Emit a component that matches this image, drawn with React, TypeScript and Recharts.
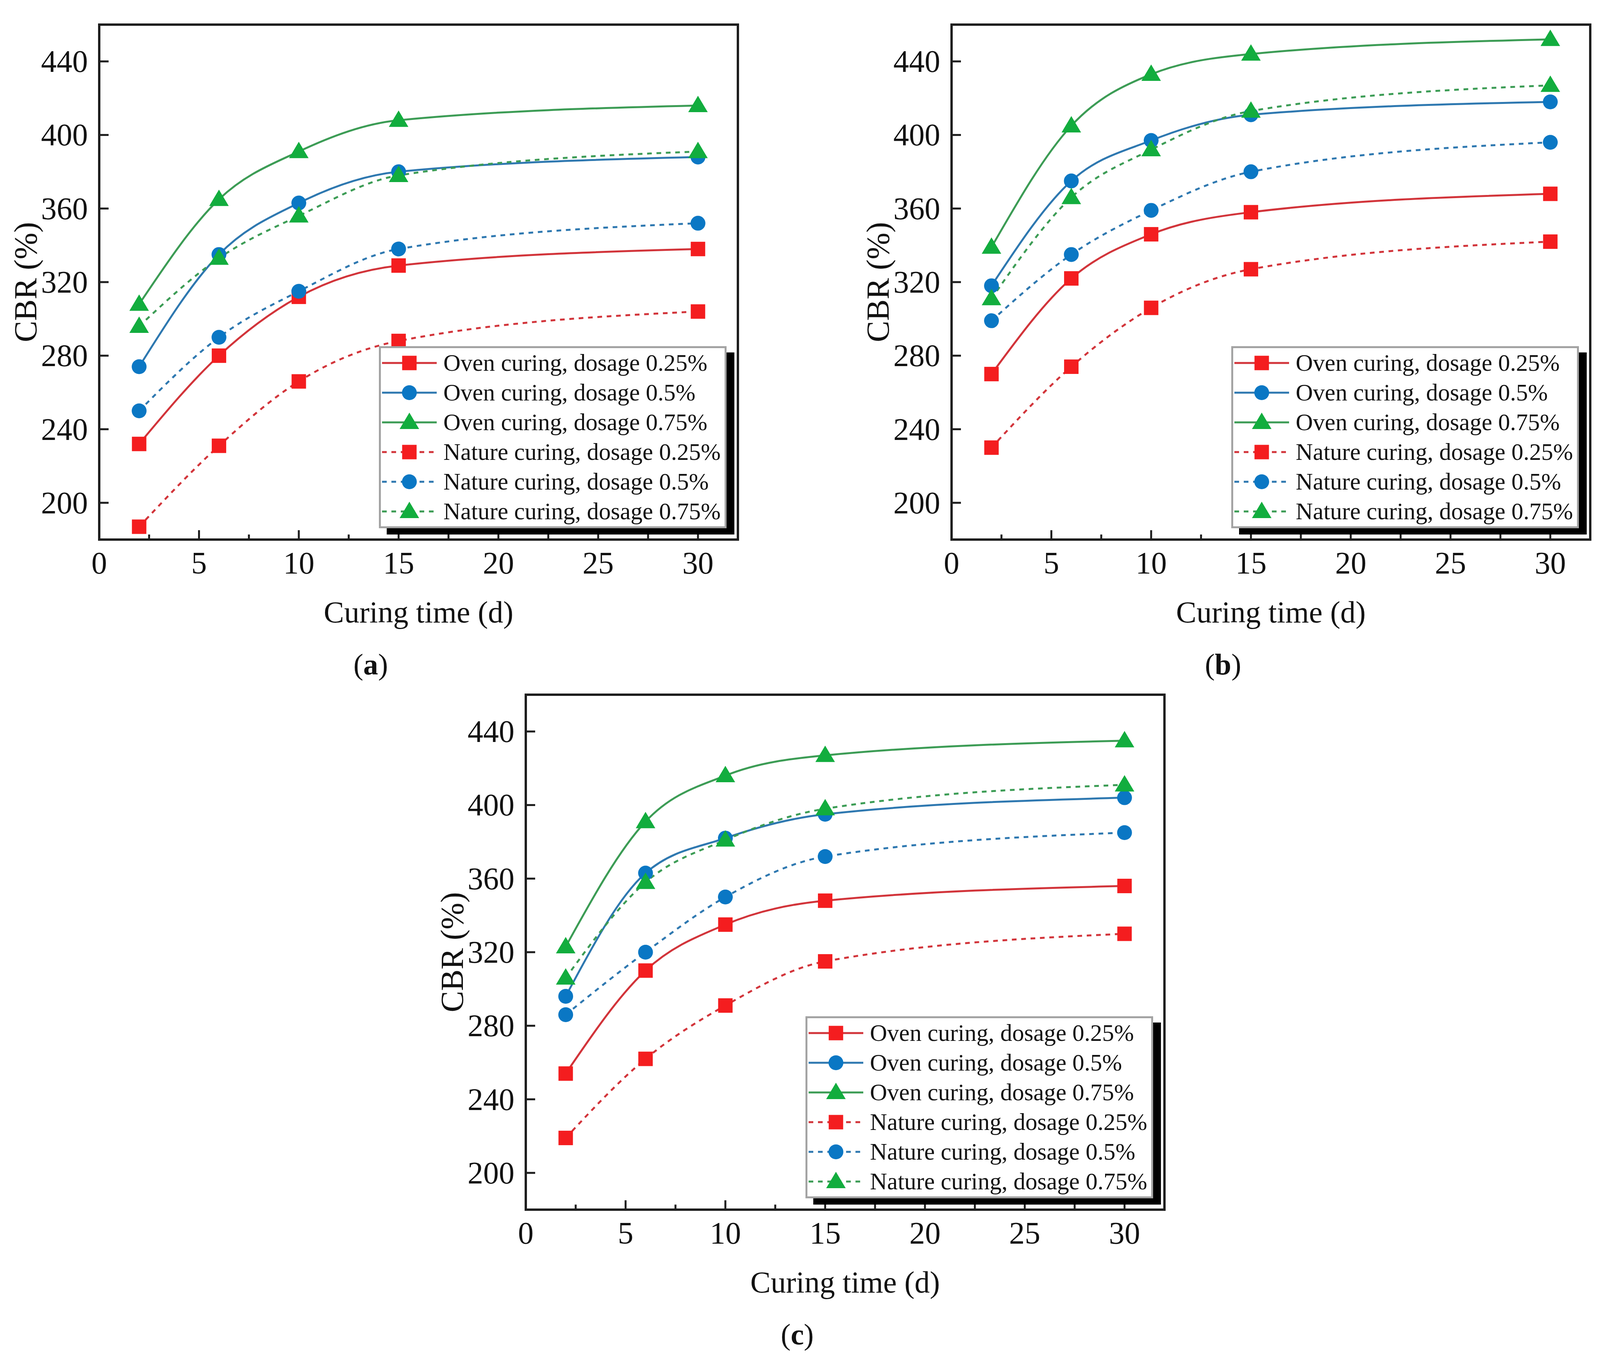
import React from 'react';
import { LineChart, Line, XAxis, YAxis, ReferenceArea, Legend } from 'recharts';

// curing time (days)
const DAYS = [2, 6, 10, 15, 30];
const X_TICKS = [0, 2.5, 5, 7.5, 10, 12.5, 15, 17.5, 20, 22.5, 25, 27.5, 30];
const Y_TICKS = [200, 240, 280, 320, 360, 400, 440];

// (a)
const A_OVEN_025 = [232, 280, 312, 329, 338];
const A_OVEN_05 = [274, 335, 363, 380, 388];
const A_OVEN_075 = [308, 365, 391, 408, 416];
const A_NATURE_025 = [187, 231, 266, 288, 304];
const A_NATURE_05 = [250, 290, 315, 338, 352];
const A_NATURE_075 = [296, 333, 356, 378, 391];

// (b)
const B_OVEN_025 = [270, 322, 346, 358, 368];
const B_OVEN_05 = [318, 375, 397, 411, 418];
const B_OVEN_075 = [339, 405, 433, 444, 452];
const B_NATURE_025 = [230, 274, 306, 327, 342];
const B_NATURE_05 = [299, 335, 359, 380, 396];
const B_NATURE_075 = [311, 366, 392, 413, 427];

// (c)
const C_OVEN_025 = [254, 310, 335, 348, 356];
const C_OVEN_05 = [296, 363, 382, 395, 404];
const C_OVEN_075 = [323, 391, 416, 427, 435];
const C_NATURE_025 = [219, 262, 291, 315, 330];
const C_NATURE_05 = [286, 320, 350, 372, 385];
const C_NATURE_075 = [306, 358, 381, 398, 411];

const SERIES_NAMES = [
  'Oven curing, dosage 0.25%',
  'Oven curing, dosage 0.5%',
  'Oven curing, dosage 0.75%',
  'Nature curing, dosage 0.25%',
  'Nature curing, dosage 0.5%',
  'Nature curing, dosage 0.75%',
];
const SERIES_KEYS = ['o25', 'o50', 'o75', 'n25', 'n50', 'n75'];

const FONT = '"Liberation Serif", "Times New Roman", serif';
const AXIS = '#1e1e1e';

type Shape = 'square' | 'circle' | 'triangle';
const STYLES: { shape: Shape; fill: string; stroke: string; dashed: boolean }[] = [
  { shape: 'square', fill: '#f41d1f', stroke: '#d2343a', dashed: false },
  { shape: 'circle', fill: '#0a77c4', stroke: '#2e78b0', dashed: false },
  { shape: 'triangle', fill: '#12ad3e', stroke: '#3c9c55', dashed: false },
  { shape: 'square', fill: '#f41d1f', stroke: '#d2343a', dashed: true },
  { shape: 'circle', fill: '#0a77c4', stroke: '#2e78b0', dashed: true },
  { shape: 'triangle', fill: '#12ad3e', stroke: '#3c9c55', dashed: true },
];

const PLOT_W = 1635;
const PLOT_H = 1318;
const Y_W = 250;
const X_H = 400;
const M_TOP = 60;
const M_RIGHT = 20;

function Marker({ cx, cy, shape, color }: { cx?: number; cy?: number; shape: Shape; color: string }) {
  if (cx == null || cy == null) return null;
  if (shape === 'square') return <rect x={cx - 18.5} y={cy - 18.5} width={37} height={37} fill={color} />;
  if (shape === 'circle') return <circle cx={cx} cy={cy} r={19} fill={color} />;
  return <polygon points={`${cx},${cy - 25} ${cx + 25},${cy + 17} ${cx - 25},${cy + 17}`} fill={color} />;
}

function XTick(props: any) {
  const { x, y, payload } = props;
  const major = payload.value % 5 === 0;
  return (
    <g>
      <line x1={x} x2={x} y1={y} y2={y - (major ? 24 : 13)} stroke={AXIS} strokeWidth={5} />
      {major && (
        <text x={x} y={y + 87} textAnchor="middle" fontSize={80} fontFamily={FONT} fill="#111">
          {payload.value}
        </text>
      )}
    </g>
  );
}

function YTick(props: any) {
  const { x, y, payload } = props;
  return (
    <g>
      <line x1={x} x2={x + 24} y1={y} y2={y} stroke={AXIS} strokeWidth={5} />
      <text x={x - 29} y={y + 27} textAnchor="end" fontSize={80} fontFamily={FONT} fill="#111">
        {payload.value}
      </text>
    </g>
  );
}

function XTitle(props: any) {
  const { viewBox, tag } = props;
  const { x, y, width } = viewBox;
  return (
    <g>
      <text x={x + width / 2} y={y + 212} textAnchor="middle" fontSize={78} fontFamily={FONT} fill="#111">
        Curing time (d)
      </text>
      <text x={x + 695} y={y + 345} textAnchor="middle" fontSize={76} fontFamily={FONT} fill="#111">
        (<tspan fontWeight="bold">{tag}</tspan>)
      </text>
    </g>
  );
}

function YTitle(props: any) {
  const { viewBox } = props;
  const { x, y, width, height } = viewBox;
  const cx = x + width - 161;
  const cy = y + height / 2;
  return (
    <text
      x={cx}
      y={cy}
      transform={`rotate(-90 ${cx} ${cy})`}
      textAnchor="middle"
      fontSize={82}
      fontFamily={FONT}
      fill="#111"
    >
      CBR (%)
    </text>
  );
}

function LegendBox() {
  return (
    <div
      style={{
        boxSizing: 'border-box',
        width: 890,
        height: 466,
        border: '5px solid #a3a3a3',
        background: '#fff',
        boxShadow: '20px 16px 0 #000',
        fontFamily: FONT,
        fontSize: 61,
        color: '#111',
      }}
    >
      {SERIES_NAMES.map((name, i) => {
        const s = STYLES[i];
        return (
          <div key={name} style={{ display: 'flex', alignItems: 'center', height: 76, whiteSpace: 'nowrap' }}>
            <svg width={150} height={76} style={{ flex: 'none' }}>
              <line
                x1={3}
                x2={143}
                y1={38}
                y2={38}
                stroke={s.stroke}
                strokeWidth={5}
                strokeDasharray={s.dashed ? '12 12' : undefined}
              />
              <Marker cx={73} cy={38} shape={s.shape} color={s.fill} />
            </svg>
            <span style={{ marginLeft: 10, lineHeight: '76px' }}>{name}</span>
          </div>
        );
      })}
    </div>
  );
}

function Panel({ tag, values, left, top }: { tag: string; values: number[][]; left: number; top: number }) {
  const rows = DAYS.map((d, i) => {
    const row: Record<string, number> = { x: d };
    SERIES_KEYS.forEach((k, j) => {
      row[k] = values[j][i];
    });
    return row;
  });

  return (
    <div style={{ position: 'absolute', left, top }}>
      <LineChart
        width={Y_W + PLOT_W + M_RIGHT}
        height={M_TOP + PLOT_H + X_H}
        data={rows}
        margin={{ top: M_TOP, right: M_RIGHT, bottom: 0, left: 0 }}
      >
        <XAxis
          type="number"
          dataKey="x"
          domain={[0, 32]}
          ticks={X_TICKS}
          interval={0}
          height={X_H}
          tickLine={false}
          tickSize={0}
          tickMargin={0}
          axisLine={{ stroke: AXIS, strokeWidth: 6 }}
          tick={(p: any) => <XTick {...p} />}
          label={<XTitle tag={tag} />}
          allowDataOverflow
        />
        <YAxis
          type="number"
          domain={[180, 460]}
          ticks={Y_TICKS}
          interval={0}
          width={Y_W}
          tickLine={false}
          tickSize={0}
          tickMargin={0}
          axisLine={{ stroke: AXIS, strokeWidth: 6 }}
          tick={(p: any) => <YTick {...p} />}
          label={<YTitle />}
          allowDataOverflow
        />
        <ReferenceArea x1={0} x2={32} y1={180} y2={460} fill="none" fillOpacity={0} stroke={AXIS} strokeWidth={6} />
        {SERIES_KEYS.map((k, i) => {
          const s = STYLES[i];
          return (
            <Line
              key={k}
              dataKey={k}
              name={SERIES_NAMES[i]}
              type="monotone"
              stroke={s.stroke}
              strokeWidth={5}
              strokeDasharray={s.dashed ? '12 12' : undefined}
              dot={(p: any) => (
                <Marker key={`${k}-${p.index}`} cx={p.cx} cy={p.cy} shape={s.shape} color={s.fill} />
              )}
              activeDot={false}
              isAnimationActive={false}
            />
          );
        })}
        <Legend
          layout="horizontal"
          verticalAlign="middle"
          align="center"
          content={() => <LegendBox />}
          wrapperStyle={{ left: Y_W + 716, top: M_TOP + 823, width: 'auto', height: 'auto' }}
        />
      </LineChart>
    </div>
  );
}

export default function App() {
  return (
    <div
      style={{
        position: 'relative',
        width: 4097,
        height: 3483,
        overflow: 'hidden',
        background: '#fff',
        fontFamily: FONT,
      }}
    >
      <Panel
        tag="a"
        values={[A_OVEN_025, A_OVEN_05, A_OVEN_075, A_NATURE_025, A_NATURE_05, A_NATURE_075]}
        left={254 - 8 - Y_W}
        top={63 - 8 - M_TOP}
      />
      <Panel
        tag="b"
        values={[B_OVEN_025, B_OVEN_05, B_OVEN_075, B_NATURE_025, B_NATURE_05, B_NATURE_075]}
        left={2436 - 8 - Y_W}
        top={63 - 8 - M_TOP}
      />
      <Panel
        tag="c"
        values={[C_OVEN_025, C_OVEN_05, C_OVEN_075, C_NATURE_025, C_NATURE_05, C_NATURE_075]}
        left={1346 - 8 - Y_W}
        top={1778 - 8 - M_TOP}
      />
    </div>
  );
}
